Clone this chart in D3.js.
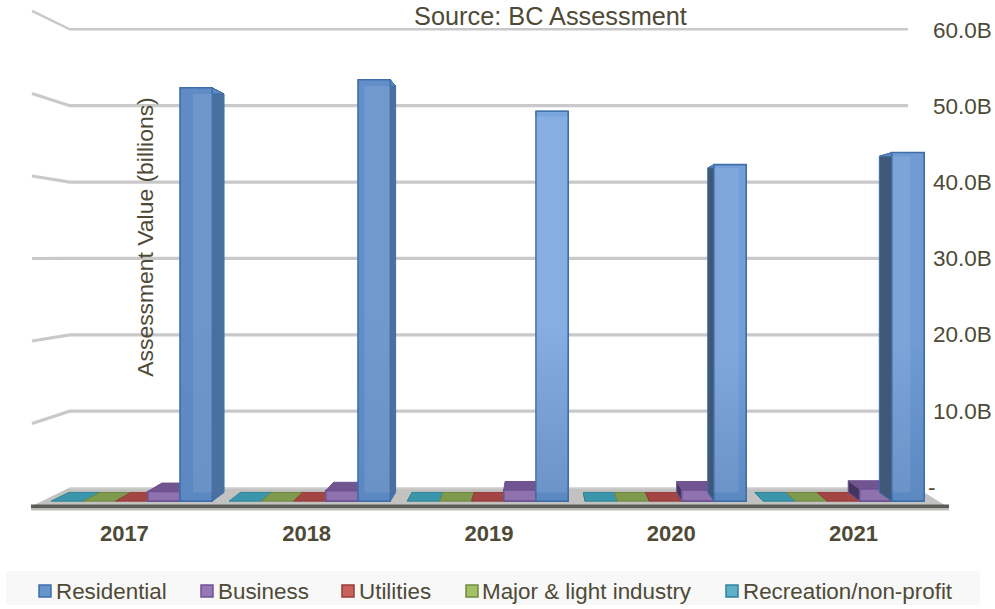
<!DOCTYPE html>
<html>
<head>
<meta charset="utf-8">
<script src="https://cdn.jsdelivr.net/npm/d3@7"></script>
<style>
  html, body { margin: 0; padding: 0; background: #fff; }
  text { font-family: "Liberation Sans", Arial, sans-serif; fill: #4e4a36; }
</style>
</head>
<body>
<div id="chart"></div>
<script>
'use strict'

// values in billions
const years = ['2017', '2018', '2019', '2020', '2021']
const residential = [51.1, 52.1, 48.2, 41.6, 43.1]
const business = [1.2, 1.3, 1.4, 1.4, 1.5]
const utilities = [0, 0, 0, 0, 0]
const industry = [0, 0, 0, 0, 0]
const recreation = [0, 0, 0, 0, 0]
const axisTicks = [0, 10, 20, 30, 40, 50, 60]

const seriesNames = ['Residential', 'Business', 'Utilities', 'Major & light industry', 'Recreation/non-profit']
const seriesValues = [residential, business, utilities, industry, recreation]
const seriesFront = ['#6a96cd', '#8f71ae', '#b9524f', '#8aa653', '#3f9db5']
const seriesTop = ['#5f8ac2', '#6f5590', '#a34543', '#7d9a4e', '#3b96ab']
const seriesLeft = ['#3f5878', '#43365f', '#7a3533', '#64803c', '#2f7d90']
const seriesRight = ['#4a6f9f', '#4f3f6e', '#7a3533', '#64803c', '#2f7d90']
const seriesEdge = ['#3f6ea8', '#6d5290', '#973c3a', '#71893f', '#2f8299']
const legendFill = ['#6495cb', '#9677b8', '#c8625c', '#a2c064', '#5fb1ca']
const legendX = [38, 200, 341, 465, 725]
const legendGap = [18, 18, 18, 17, 18]
const barShade = ['#5f8cc5', '#628fc9', '#7aa6de', '#739fd8', '#6f9bd4']

const svgWidth = 995, svgHeight = 609

const svg = d3.select('#chart').append('svg')
  .attr('width', svgWidth)
  .attr('height', svgHeight)
  .style('display', 'block')

const defs = svg.append('defs')
defs.append('filter').attr('id', 'soft')
  .append('feGaussianBlur').attr('stdDeviation', 0.5)

barShade.forEach((c, i) => {
  const grad = defs.append('linearGradient')
    .attr('id', 'barFront' + i)
    .attr('x1', 0).attr('y1', 0).attr('x2', 0).attr('y2', 1)
  grad.append('stop').attr('offset', '0%').attr('stop-color', c)
  grad.append('stop').attr('offset', '55%').attr('stop-color', c)
  grad.append('stop').attr('offset', '100%').attr('stop-color', '#5c88c2')
})

// front plane scales, everything is pushed back through project()
const y = d3.scaleLinear().domain([0, 60]).range([507, 10])
const x0 = d3.scaleBand().domain(years).range([39.4, 933.4]).paddingInner(0.0947)
const x1 = d3.scaleBand().domain(seriesNames.slice().reverse()).range([0, x0.bandwidth()])

// perspective: z=0 front of the floor, z=1 back wall
const vanish = { x: 540, y: 258 }, depth = 0.078
function project(px, py, z) {
  const k = 1 - depth * z
  return [vanish.x + (px - vanish.x) * k, vanish.y + (py - vanish.y) * k]
}
const line = pts => 'M' + pts.map(p => p.join(',')).join('L') + 'Z'

const plot = svg.append('g').attr('filter', 'url(#soft)')

// gridlines, side wall part + back wall part
const gridColor = '#c9c9c9'
axisTicks.forEach(t => {
  if (t === 0) return
  const a = project(30, y(t), 0.05)
  const b = project(30, y(t), 1)
  plot.append('polyline')
    .attr('points', [a, b, [908, b[1]]].map(p => p.join(',')).join(' '))
    .attr('fill', 'none')
    .attr('stroke', gridColor)
    .attr('stroke-width', t === 60 ? 2.5 : 3.2)
})

// floor
plot.append('path')
  .attr('d', line([project(30, y(0), 0), project(30, y(0), 1), project(948, y(0), 1), project(948, y(0), 0)]))
  .attr('fill', '#c2c2c0')
plot.append('path')
  .attr('d', line([project(30, y(0), 0.95), project(30, y(0), 1), project(948, y(0), 1), project(948, y(0), 0.95)]))
  .attr('fill', '#d6d6d6')
plot.append('rect')
  .attr('x', 31)
  .attr('y', y(0) - 2.5)
  .attr('width', 918)
  .attr('height', 4)
  .attr('fill', '#5c5c5a')
plot.append('rect')
  .attr('x', 31)
  .attr('y', y(0) + 1.5)
  .attr('width', 918)
  .attr('height', 2)
  .attr('fill', '#bdbdbb')

// bars, drawn left to right so nearer sides overlap properly
const zFront = 0.3, zBack = 0.75
const order = [4, 3, 2, 1, 0]

function drawBox(g, left, right, top, s, i, front) {
  const base = y(0)
  const fl = project(left, top, zFront), fr = project(right, top, zFront)
  const bl = project(left, top, zBack), br = project(right, top, zBack)
  const fl0 = project(left, base, zFront), fr0 = project(right, base, zFront)
  const bl0 = project(left, base, zBack), br0 = project(right, base, zBack)

  // side face, whichever one faces the viewer
  if (bl[0] < fl[0]) {
    g.append('path').attr('d', line([bl, fl, fl0, bl0]))
      .attr('fill', seriesLeft[s]).attr('stroke', seriesEdge[s]).attr('stroke-width', 1)
  }
  if (br[0] > fr[0]) {
    g.append('path').attr('d', line([fr, br, br0, fr0]))
      .attr('fill', seriesRight[s]).attr('stroke', seriesEdge[s]).attr('stroke-width', 1)
  }
  g.append('path').attr('d', line([bl, br, fr, fl]))
    .attr('fill', seriesTop[s]).attr('stroke', seriesEdge[s]).attr('stroke-width', 1)
  if (front) {
    g.append('path').attr('d', line([fl, fr, fr0, fl0]))
      .attr('fill', s === 0 ? `url(#barFront${i})` : seriesFront[s])
      .attr('stroke', seriesEdge[s]).attr('stroke-width', 1.6)
    if (s === 0) {
      // lighter inner band where the back face shows through the front
      const innerL = Math.max(fl[0], bl[0]), innerR = Math.min(fr[0], br[0])
      g.append('path')
        .attr('d', line([[innerL, bl[1]], [innerR, bl[1]], [innerR, bl0[1]], [innerL, bl0[1]]]))
        .attr('fill', '#fff')
        .attr('fill-opacity', 0.09)
    }
  }
}

years.forEach((yr, i) => {
  const g = plot.append('g').attr('class', 'year-' + yr)
  order.forEach(s => {
    const left = x0(yr) + x1(seriesNames[s])
    const right = left + x1.bandwidth()
    const v = seriesValues[s][i]
    // zero series only show as a flat tile on the floor
    drawBox(g, left, right, y(v), s, i, v > 0)
  })
})

// labels
const axis = d3.axisRight(y.copy().range([487, 30]))
  .tickValues(axisTicks)
  .tickSize(0)
  .tickPadding(0)
  .tickFormat(d => d === 0 ? '-' : d3.format('.1f')(d) + 'B')

const axisG = svg.append('g')
  .attr('transform', 'translate(933,0)')
  .call(axis)
axisG.select('.domain').remove()
axisG.selectAll('text')
  .attr('font-size', 22.5)
  .style('font-family', '"Liberation Sans", Arial, sans-serif')
  .attr('fill', '#4e4a36')
  .attr('x', d => d === 0 ? -5 : 0)

svg.selectAll('.yearLabel')
  .data(years)
  .join('text')
  .attr('class', 'yearLabel')
  .attr('x', d => x0(d) + x0.bandwidth() / 2 + 2.5)
  .attr('y', 541)
  .attr('text-anchor', 'middle')
  .attr('font-size', 22)
  .attr('font-weight', 'bold')
  .text(d => d)

svg.append('text')
  .attr('transform', 'translate(153,237) rotate(-90)')
  .attr('text-anchor', 'middle')
  .attr('font-size', 22.9)
  .text('Assessment Value (billions)')

svg.append('text')
  .attr('x', 550.5)
  .attr('y', 25)
  .attr('text-anchor', 'middle')
  .attr('font-size', 25.3)
  .text('Source: BC Assessment')

// legend
svg.append('rect')
  .attr('x', 6).attr('y', 571)
  .attr('width', 974).attr('height', 34)
  .attr('fill', '#f8f8f8')

const legend = svg.selectAll('.legendItem')
  .data(seriesNames)
  .join('g')
  .attr('class', 'legendItem')
  .attr('transform', (d, i) => `translate(${legendX[i]},586)`)

legend.append('rect')
  .attr('x', 1).attr('y', -1)
  .attr('width', 12).attr('height', 12)
  .attr('fill', (d, i) => legendFill[i])
  .attr('stroke', (d, i) => seriesEdge[i])
  .attr('stroke-width', 1.5)

legend.append('text')
  .attr('x', (d, i) => legendGap[i])
  .attr('y', 13)
  .attr('font-size', 22.4)
  .text(d => d)
</script>
</body>
</html>
